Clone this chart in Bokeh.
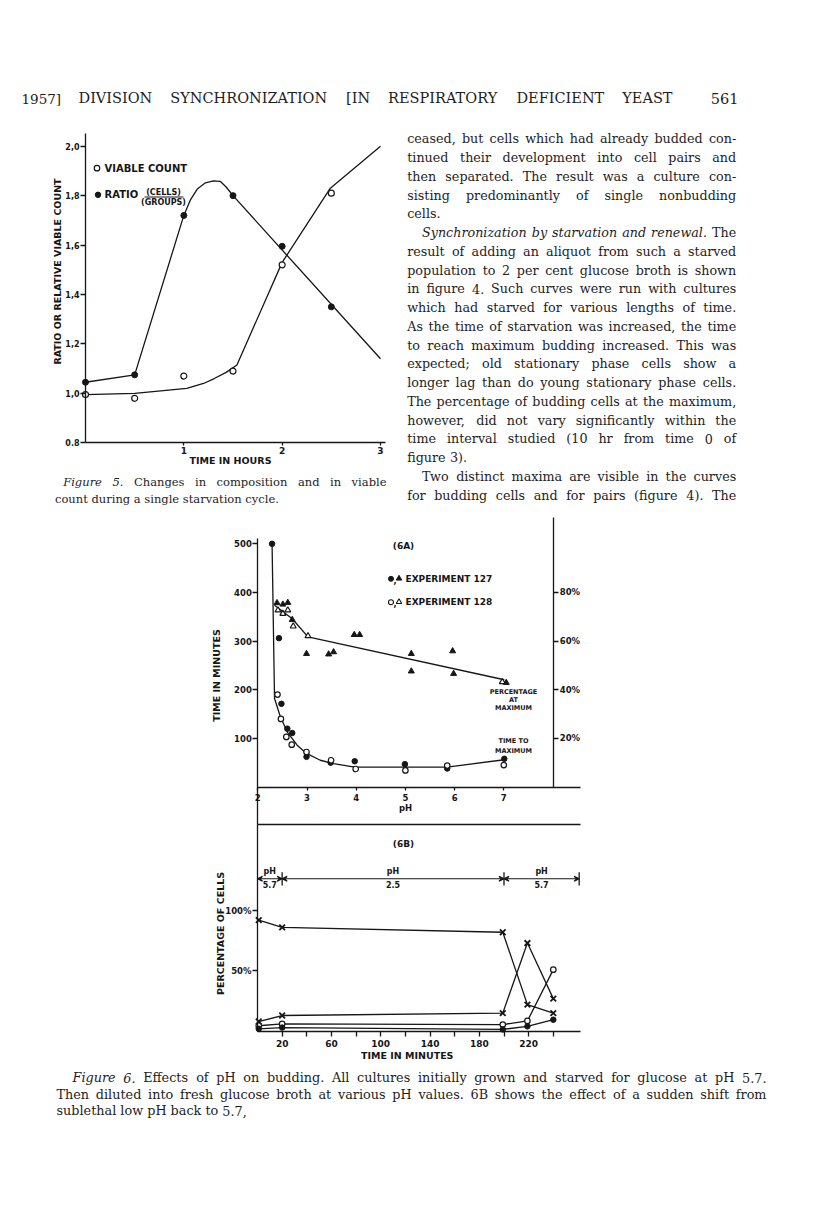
import math
from bokeh.plotting import figure
from bokeh.models import Range1d, LinearAxis, FixedTicker, Arrow, VeeHead, ColumnDataSource
from bokeh.core.properties import value
from bokeh.embed import file_html
from bokeh.resources import INLINE

INK = "#161616"
TXT = "#1d1d1d"
SANS = "DejaVu Sans"
SERIF = "DejaVu Serif"

# ------------------------------------------------------------------ DATA
# Figure 5 : composition and viable count during a starvation cycle
f5_hours = [0.0, 0.5, 1.0, 1.5, 2.0, 2.5]
f5_viable = [0.995, 0.98, 1.07, 1.09, 1.52, 1.81]
f5_ratio = [1.045, 1.075, 1.72, 1.80, 1.595, 1.35]
f5_viable_curve_h = [0.0, 0.5, 1.03, 1.2, 1.31, 1.43, 1.54, 2.0, 2.49, 3.0]
f5_viable_curve_v = [0.995, 1.0, 1.02, 1.04, 1.06, 1.085, 1.115, 1.53, 1.83, 2.0]
f5_ratio_curve_h = [0.0, 0.5, 1.0, 1.07, 1.14, 1.22, 1.3, 1.37, 1.43, 1.5, 3.0]
f5_ratio_curve_v = [1.045, 1.075, 1.72, 1.785, 1.828, 1.852, 1.86, 1.858, 1.835, 1.80, 1.14]
f5_yticks = [0.8, 1.0, 1.2, 1.4, 1.6, 1.8, 2.0]
f5_ytick_labels = ["0.8", "1,0", "1,2", "1,4", "1,6", "1,8", "2,0"]
f5_xticks = [1, 2, 3]
f5_xtick_labels = ["1", "2", "3"]

# Figure 6A : time to maximum budding (minutes) vs pH
a_ph127 = [2.29, 2.43, 2.48, 2.60, 2.70, 2.99, 3.48, 3.97, 4.99, 5.85, 7.01]
a_time127 = [500, 306, 171, 120, 111, 62, 50, 53, 47, 38, 58]
a_ph128 = [2.40, 2.47, 2.58, 2.69, 2.99, 3.49, 3.99, 5.00, 5.85, 7.00]
a_time128 = [190, 140, 103, 87, 72, 55, 37, 34, 44, 45]
a_time_curve_ph = [2.29, 2.34, 2.46, 2.60, 2.80, 2.99, 3.27, 3.54, 3.97, 5.85, 7.01]
a_time_curve_min = [500, 182, 144, 113, 86, 69, 55, 48, 41, 41, 56]
# Figure 6A : percentage of budding cells at maximum vs pH
a_pct_ph127 = [2.39, 2.51, 2.61, 2.70, 2.99, 3.44, 3.54, 3.96, 4.07, 5.12, 5.12, 5.96, 5.98, 7.05]
a_pct127 = [75.7, 75.1, 75.8, 68.8, 54.8, 54.6, 55.5, 62.6, 62.6, 54.8, 47.6, 55.9, 46.6, 42.9]
a_pct_ph128 = [2.41, 2.51, 2.61, 2.72, 3.02, 6.97]
a_pct128 = [72.7, 71.3, 72.7, 66.1, 62.1, 43.2]
a_pct_curve_ph = [2.34, 2.70, 3.02, 7.01]
a_pct_curve = [74.7, 69.2, 61.7, 44.1]
a_yticks = [100, 200, 300, 400, 500]
a_ytick_labels = ["100", "200", "300", "400", "500"]
a_pticks = [20, 40, 60, 80]
a_ptick_labels = ["20%", "40%", "60%", "80%"]
a_xticks = [2, 3, 4, 5, 6, 7]
a_xtick_labels = ["2", "3", "4", "5", "6", "7"]

# Figure 6B : percentage of cells vs time, pH shifts
b_time = [1, 20, 199, 219, 240]
b_x_upper = [92, 86, 82, 22, 15]
b_x_lower = [8, 13, 15, 73, 27]
b_open = [4.5, 6.0, 5.5, 8.5, 51]
b_filled = [2.0, 3.0, 1.5, 4.0, 9.5]
b_phase_edges = [0, 20, 200, 261]
b_phase_ph = ["5.7", "2.5", "5.7"]
b_yticks = [50, 100]
b_ytick_labels = ["50%", "100%"]
b_xticks = [20, 40, 60, 80, 100, 120, 140, 160, 180, 200, 220, 240]
b_xtick_labels = ["20", "", "60", "", "100", "", "140", "", "180", "", "220", ""]

# Page text
header_left = "1957]"
header_title = "DIVISION SYNCHRONIZATION [IN RESPIRATORY DEFICIENT YEAST"
header_right = "561"
body_lines = [
    "ceased, but cells which had already budded con-",
    "tinued their development into cell pairs and",
    "then separated. The result was a culture con-",
    "sisting predominantly of single nonbudding",
    "cells.",
    "_Synchronization _by _starvation _and _renewal. The",
    "result of adding an aliquot from such a starved",
    "population to 2 per cent glucose broth is shown",
    "in figure 4. Such curves were run with cultures",
    "which had starved for various lengths of time.",
    "As the time of starvation was increased, the time",
    "to reach maximum budding increased. This was",
    "expected; old stationary phase cells show a",
    "longer lag than do young stationary phase cells.",
    "The percentage of budding cells at the maximum,",
    "however, did not vary significantly within the",
    "time interval studied (10 hr from time 0 of",
    "figure 3).",
    "Two distinct maxima are visible in the curves",
    "for budding cells and for pairs (figure 4). The",
]
body_indented = [5, 18]
body_ragged = [4, 17]
cap5_lines = [
    "_Figure _5. Changes in composition and in viable",
    "count during a single starvation cycle.",
]
cap6_lines = [
    "_Figure _6. Effects of pH on budding. All cultures initially grown and starved for glucose at pH 5.7.",
    "Then diluted into fresh glucose broth at various pH values. 6B shows the effect of a sudden shift from",
    "sublethal low pH back to 5.7,",
]

# ------------------------------------------------------------------ PAGE FIGURE
# the canvas sits at the window's top-left corner: data units = window pixels
PX0, PX1, PY0, PY1 = 0.0, 800.0, 0.0, 1209.0
p = figure(width=800, height=1209, x_range=Range1d(PX0, PX1), y_range=Range1d(PY1, PY0),
           x_axis_type=None, y_axis_type=None, toolbar_location=None, output_backend="svg",
           min_border=0, outline_line_color=None, background_fill_color="white",
           border_fill_color="white")


def xmap(v0, p0, v1, p1):
    k = (v1 - v0) / (p1 - p0)
    return Range1d(start=v0 + (PX0 - p0) * k, end=v0 + (PX1 - p0) * k)


def ymap(v0, p0, v1, p1):
    k = (v1 - v0) / (p1 - p0)
    return Range1d(start=v0 + (PY1 - p0) * k, end=v0 + (PY0 - p0) * k)


p.extra_x_ranges = {
    "f5x": xmap(0, 85.0, 3, 380.0),
    "ax": xmap(2, 257.3, 7, 503.3),
    "bx": xmap(0, 257.0, 240, 552.8),
}
p.extra_y_ranges = {
    "f5y": ymap(0.8, 442.3, 2.0, 145.7),
    "ay": ymap(0, 786.5, 500, 543.3),
    "ap": ymap(0, 786.5, 100, 543.3),
    "by": ymap(0, 1030.7, 100, 910.0),
}


def axis(side, xr, yr, loc, bounds, ticks=(), labels=(), tick_out=5, standoff=2, fsize="8.5px"):
    ax = LinearAxis(x_range_name=xr, y_range_name=yr, fixed_location=loc, bounds=bounds,
                    ticker=FixedTicker(ticks=list(ticks), minor_ticks=[]),
                    major_label_overrides={t: l for t, l in zip(ticks, labels)},
                    major_tick_in=0, major_tick_out=tick_out, minor_tick_in=0, minor_tick_out=0,
                    major_label_standoff=standoff,
                    axis_line_color=INK, axis_line_width=1.3,
                    major_tick_line_color=INK, major_tick_line_width=1.3,
                    major_label_text_font=SANS, major_label_text_font_style="bold",
                    major_label_text_font_size=fsize, major_label_text_color=INK)
    p.add_layout(ax, side)
    return ax


def label(x, y, t, size, align="center", angle=0.0, xr="default", yr="default",
          font=SANS, style="bold", baseline="middle", color=INK):
    p.text(x=[x], y=[y], text=[t], angle=angle, x_range_name=xr, y_range_name=yr,
           text_font=value(font), text_font_size=f"{size}px", text_font_style=style,
           text_align=align, text_baseline=baseline, text_color=color)


# ------------------------------------------------------------------ FIGURE 5
axis("left", "f5x", "f5y", 0, (0.8, 2.05), f5_yticks, f5_ytick_labels, tick_out=5, standoff=1, fsize="8px")
axis("below", "f5x", "f5y", 0.8, (0, 3.05), f5_xticks, f5_xtick_labels, tick_out=3, standoff=1, fsize="9px")
kw5 = dict(x_range_name="f5x", y_range_name="f5y")
p.line(f5_viable_curve_h, f5_viable_curve_v, line_color=INK, line_width=1.3, **kw5)
p.line(f5_ratio_curve_h, f5_ratio_curve_v, line_color=INK, line_width=1.3, **kw5)
p.scatter(f5_hours, f5_viable, marker="circle", size=6, fill_color="white", line_color=INK, line_width=1.2, **kw5)
p.scatter(f5_hours, f5_ratio, marker="circle", size=6, fill_color=INK, line_color=INK, **kw5)
label(57, 271, "RATIO OR RELATIVE VIABLE COUNT", 9.5, angle=math.pi / 2)
label(230, 460, "TIME IN HOURS", 9.5)
p.scatter([96.5], [167.7], marker="circle", size=5.5, fill_color="white", line_color=INK, line_width=1.2)
label(104, 167.7, "VIABLE COUNT", 10, align="left")
p.scatter([97.5], [194.3], marker="circle", size=5.5, fill_color=INK, line_color=INK)
label(104, 194.3, "RATIO", 10, align="left")
label(163, 191.5, "(CELLS)", 8, align="center")
p.segment([144], [196.5], [183], [196.5], line_color=INK, line_width=1)
label(163, 201.5, "(GROUPS)", 8, align="center")

# ------------------------------------------------------------------ FIGURE 6A
axis("left", "ax", "ay", 2, (-78, 511), a_yticks, a_ytick_labels, tick_out=5, standoff=1)
axis("right", "ax", "ap", 8.016, (0, 111), a_pticks, a_ptick_labels, tick_out=5, standoff=1)
axis("below", "ax", "ay", 0, (2, 8.56), a_xticks, a_xtick_labels, tick_out=3, standoff=4)
kwa = dict(x_range_name="ax", y_range_name="ay")
kwp = dict(x_range_name="ax", y_range_name="ap")
p.line(a_time_curve_ph, a_time_curve_min, line_color=INK, line_width=1.3, **kwa)
p.line(a_pct_curve_ph, a_pct_curve, line_color=INK, line_width=1.3, **kwp)
p.scatter(a_ph127, a_time127, marker="circle", size=5.5, fill_color=INK, line_color=INK, **kwa)
p.scatter(a_ph128, a_time128, marker="circle", size=5.5, fill_color="white", line_color=INK, line_width=1.2, **kwa)
p.scatter(a_pct_ph127, a_pct127, marker="triangle", size=6, fill_color=INK, line_color=INK, **kwp)
p.scatter(a_pct_ph128, a_pct128, marker="triangle", size=6, fill_color="white", line_color=INK, line_width=1.2, **kwp)
label(216, 675, "TIME IN MINUTES", 9.5, angle=math.pi / 2)
label(405, 807.5, "pH", 8.5)
label(403, 545.7, "(6A)", 9)
p.scatter([390.5], [578.3], marker="circle", size=5, fill_color=INK, line_color=INK)
p.scatter([398.5], [578.0], marker="triangle", size=5.5, fill_color=INK, line_color=INK)
label(394.5, 580, ",", 8)
label(405, 578.3, "EXPERIMENT 127", 9, align="left")
p.scatter([390.5], [601.7], marker="circle", size=5, fill_color="white", line_color=INK, line_width=1.1)
p.scatter([398.5], [601.4], marker="triangle", size=5.5, fill_color="white", line_color=INK, line_width=1.1)
label(394.5, 603.4, ",", 8)
label(405, 601.7, "EXPERIMENT 128", 9, align="left")
label(513, 691.5, "PERCENTAGE", 6.5)
label(513, 699.3, "AT", 6.5)
label(513, 707.5, "MAXIMUM", 6.5)
label(513, 740, "TIME TO", 6.5)
label(513, 750, "MAXIMUM", 6.5)

# ------------------------------------------------------------------ FIGURE 6B
axis("left", "bx", "by", 0, (0, 171), b_yticks, b_ytick_labels, tick_out=5, standoff=1)
axis("below", "bx", "by", 0, (0, 262), b_xticks, b_xtick_labels, tick_out=5, standoff=4, fsize="9px")
axis("above", "bx", "by", 171, (0, 262))
kwb = dict(x_range_name="bx", y_range_name="by")
for series in (b_x_upper, b_x_lower, b_open, b_filled):
    p.line(b_time, series, line_color=INK, line_width=1.3, **kwb)
p.scatter(b_time, b_x_upper, marker="x", size=8, line_color=INK, line_width=1.8, **kwb)
p.scatter(b_time, b_x_lower, marker="x", size=8, line_color=INK, line_width=1.8, **kwb)
p.scatter(b_time, b_open, marker="circle", size=5.5, fill_color="white", line_color=INK, line_width=1.2, **kwb)
p.scatter(b_time, b_filled, marker="circle", size=5.5, fill_color=INK, line_color=INK, **kwb)
for i in range(len(b_phase_ph)):
    x0, x1 = b_phase_edges[i], b_phase_edges[i + 1]
    p.add_layout(Arrow(x_start=x0, y_start=126.3, x_end=x1, y_end=126.3,
                       start=VeeHead(size=5, line_color=INK, line_width=1.1),
                       end=VeeHead(size=5, line_color=INK, line_width=1.1),
                       line_color=INK, line_width=1.2, **kwb))
    label((x0 + x1) / 2, 132.0, "pH", 8, xr="bx", yr="by")
    label((x0 + x1) / 2, 121.6, b_phase_ph[i], 8, xr="bx", yr="by")
p.segment(b_phase_edges[1:], [120.7] * 3, b_phase_edges[1:], [131.7] * 3,
          line_color=INK, line_width=1.3, **kwb)
label(220, 933, "PERCENTAGE OF CELLS", 9.5, angle=math.pi / 2)
label(403, 843.3, "(6B)", 9)
label(406.7, 1055, "TIME IN MINUTES", 9.5)

# ------------------------------------------------------------------ PAGE TEXT
EM = {' ': .318, 'a': .596, 'b': .640, 'c': .560, 'd': .640, 'e': .592, 'f': .370, 'g': .640,
      'h': .644, 'i': .320, 'j': .310, 'k': .606, 'l': .320, 'm': .948, 'n': .644, 'o': .602,
      'p': .640, 'q': .640, 'r': .478, 's': .513, 't': .402, 'u': .644, 'v': .565, 'w': .856,
      'x': .564, 'y': .565, 'z': .527, 'A': .722, 'B': .735, 'C': .765, 'D': .802, 'E': .730,
      'F': .694, 'G': .799, 'H': .872, 'I': .395, 'J': .401, 'K': .747, 'L': .664, 'M': 1.024,
      'N': .875, 'O': .820, 'P': .673, 'Q': .820, 'R': .753, 'S': .685, 'T': .667, 'U': .843,
      'V': .722, 'W': 1.028, 'X': .712, 'Y': .660, 'Z': .695, '.': .318, ',': .318, ';': .337,
      ':': .337, '(': .390, ')': .390, '[': .390, ']': .390, '-': .338}
for d in "0123456789":
    EM[d] = .636

BASE_SHIFT = -4.0  # alphabetic baseline correction


def em(s):
    return sum(EM.get(c, .6) for c in s)


def split_words(line):
    out = []
    for w in line.split(" "):
        out.append((w[1:], True) if w.startswith("_") else (w, False))
    return out


def block_size(lines, lefts, right, justified, cap):
    best = cap
    for ln, xl, j in zip(lines, lefts, justified):
        if j:
            words = split_words(ln)
            nat = sum(em(t) for t, _ in words) + EM[' '] * (len(words) - 1)
            best = min(best, 0.985 * (right - xl) / nat)
    return best


def set_block(lines, lefts, right, ys, justified, size, font=SERIF):
    reg = dict(x=[], y=[], text=[])
    ita = dict(x=[], y=[], text=[])
    for ln, xl, y, j in zip(lines, lefts, ys, justified):
        words = split_words(ln)
        widths = [em(t) * size for t, _ in words]
        if j and len(words) > 1:
            gap = (right - xl - sum(widths)) / (len(words) - 1)
        else:
            gap = EM[' '] * size
        x = xl
        for (t, it), w in zip(words, widths):
            dst = ita if it else reg
            dst["x"].append(x)
            dst["y"].append(y + 0.33 * size + BASE_SHIFT)
            dst["text"].append(t)
            x += w + gap
    for src, style in ((reg, "normal"), (ita, "italic")):
        if src["x"]:
            p.text(x="x", y="y", text="text", source=ColumnDataSource(src),
                   text_font=value(font), text_font_size=f"{size:.2f}px", text_font_style=style,
                   text_align="left", text_baseline="alphabetic", text_color=TXT)


# header
hs = 14.5
label(21, 97 + 0.36 * hs + BASE_SHIFT, header_left, hs - 1, align="left", font=SERIF,
      style="normal", baseline="alphabetic", color=TXT)
set_block([header_title], [78.0], 672.0, [97.0], [True], hs)
label(738, 97 + 0.36 * hs + BASE_SHIFT, header_right, hs, align="right", font=SERIF,
      style="normal", baseline="alphabetic", color=TXT)

# body column
n = len(body_lines)
b_left = [421.5 if i in body_indented else 406.7 for i in range(n)]
b_just = [i not in body_ragged for i in range(n)]
b_ys = [138.3 + 18.74 * i for i in range(n)]
bs = block_size(body_lines, b_left, 735.7, b_just, 12.8)
set_block(body_lines, b_left, 735.7, b_ys, b_just, bs)

# figure 5 caption
c5_left = [62.7, 54.5]
c5s = block_size(cap5_lines, c5_left, 386.0, [True, False], 11.5)
set_block(cap5_lines, c5_left, 386.0, [481.5, 498.3], [True, False], c5s)

# figure 6 caption
c6_left = [72.0, 56.0, 56.0]
c6s = block_size(cap6_lines, c6_left, 766.0, [True, True, False], 12.8)
set_block(cap6_lines, c6_left, 766.0, [1077.0, 1093.5, 1110.0], [True, True, False], c6s)

open("out.html", "w").write(file_html(p, INLINE))
